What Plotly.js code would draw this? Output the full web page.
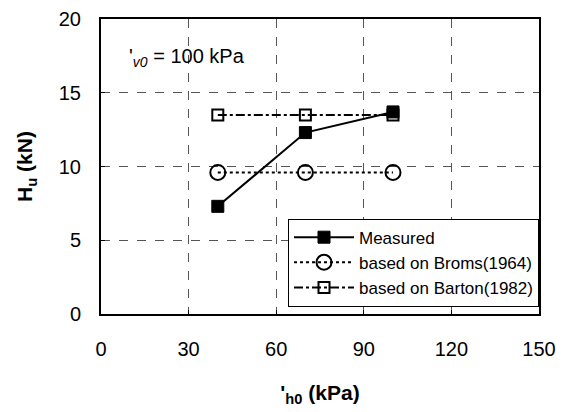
<!DOCTYPE html>
<html>
<head>
<meta charset="utf-8">
<script src="https://cdn.plot.ly/plotly-3.0.1.min.js"></script>
<style>html,body{margin:0;padding:0;background:#fff;}#chart{width:565px;height:412px;}</style>
</head>
<body>
<div id="chart"></div>
<script>
const sigmaH0 = [40, 70, 100];
const measured = [7.3, 12.3, 13.7];
const broms = [9.6, 9.6, 9.6];
const barton = [13.5, 13.5, 13.5];
const seriesNames = ["Measured", "based on Broms(1964)", "based on Barton(1982)"];
const xTicks = [0, 30, 60, 90, 120, 150];
const yTicks = [0, 5, 10, 15, 20];

const font = "Liberation Sans, Arial, sans-serif";
const traces = [
  {x: sigmaH0, y: measured, name: seriesNames[0], mode: "lines+markers",
   line: {color: "#000", width: 2, dash: "solid"},
   marker: {symbol: "square", size: 12, color: "#000", line: {color: "#000", width: 1}}},
  {x: sigmaH0, y: broms, name: seriesNames[1], mode: "lines+markers",
   line: {color: "#000", width: 2, dash: "dot"},
   marker: {symbol: "circle-open", size: 15, color: "#000", line: {color: "#000", width: 2}}},
  {x: sigmaH0, y: barton, name: seriesNames[2], mode: "lines+markers",
   line: {color: "#000", width: 2, dash: "dashdot"},
   marker: {symbol: "square-open", size: 11, color: "#000", line: {color: "#000", width: 2}}}
];

const layout = {
  width: 565, height: 412,
  margin: {l: 101, r: 26, t: 19, b: 98},
  paper_bgcolor: "#fff", plot_bgcolor: "#fff",
  font: {family: font, color: "#000", size: 20},
  showlegend: true,
  legend: {x: 1, xanchor: "right", y: 0.025, yanchor: "bottom",
           bgcolor: "#fff", bordercolor: "#000", borderwidth: 1,
           itemwidth: 60,
           font: {family: font, size: 17}, tracegroupgap: 0},
  xaxis: {range: [0, 150], tickvals: xTicks, ticktext: xTicks.map(String),
          showgrid: true, gridcolor: "#555", gridwidth: 1, griddash: "dash",
          zeroline: false, showline: true, linecolor: "#000", linewidth: 2, mirror: true,
          ticks: "inside", ticklen: 4, tickcolor: "#000", ticklabelstandoff: 16,
          tickfont: {size: 20}, fixedrange: true,
          title: {text: "'<sub>h0</sub> (kPa)", font: {size: 21, family: font, weight: "bold"}, standoff: 26}},
  yaxis: {range: [0, 20], tickvals: yTicks, ticktext: yTicks.map(String),
          showgrid: true, gridcolor: "#555", gridwidth: 1, griddash: "dash",
          zeroline: false, showline: true, linecolor: "#000", linewidth: 2, mirror: true,
          ticks: "inside", ticklen: 4, tickcolor: "#000", ticklabelstandoff: 14,
          tickfont: {size: 20}, fixedrange: true,
          title: {text: "H<sub>u</sub> (kN)", font: {size: 21, family: font, weight: "bold"}, standoff: 20}},
  annotations: [{
    xref: "paper", yref: "paper", x: 0.06, y: 0.87, xanchor: "left", yanchor: "middle",
    showarrow: false, text: "'<sub><i>v0</i></sub> = 100 kPa", font: {size: 20, family: font}
  }]
};
Plotly.newPlot("chart", traces, layout, {displayModeBar: false, staticPlot: true});
</script>
</body>
</html>
